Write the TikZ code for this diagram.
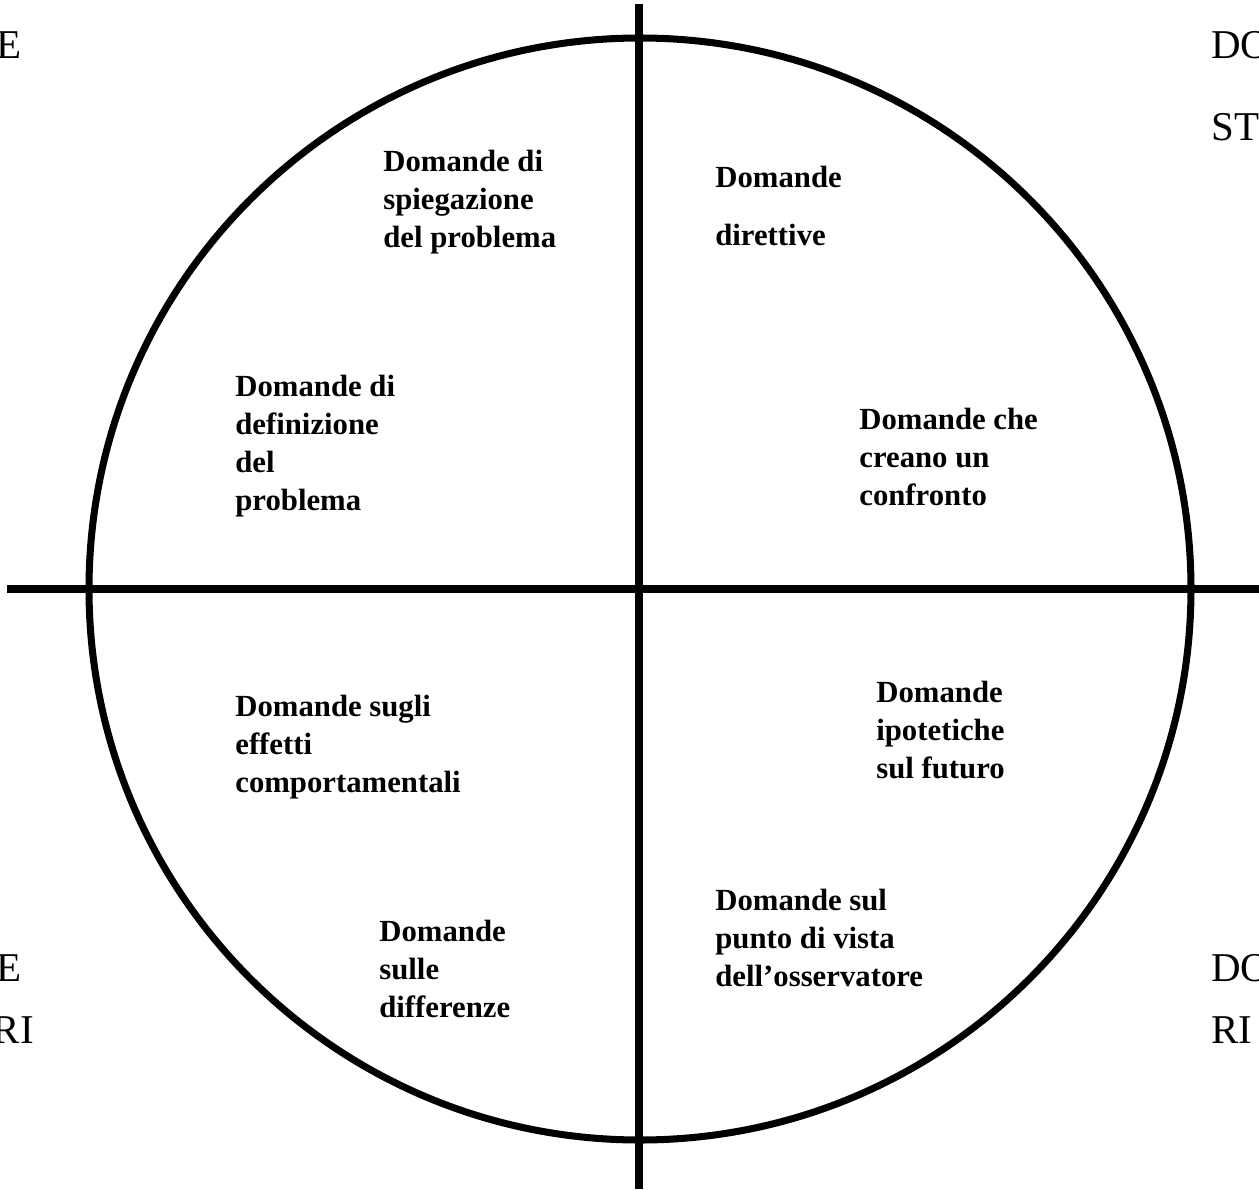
\documentclass[tikz,border=0pt]{standalone}
\usepackage{fontspec}
\setmainfont{Liberation Serif}
\usetikzlibrary{positioning}

\tikzset{
  quest/.style={anchor=base west, inner sep=0pt, align=left, font=\fontsize{17.5}{21.6}\selectfont\bfseries},
  side/.style={inner sep=0pt, font=\fontsize{23.3}{28}\selectfont},
  axis/.style={line width=4.5pt},
}

\begin{document}
\begin{tikzpicture}[x=0.02cm, y=-0.02cm]
\useasboundingbox (0,0) rectangle (1259,1190);
\clip (0,0) rectangle (1259,1190);

%circle and axes
\coordinate (c) at (640,589);
\draw[line width=4pt] (c) circle (551);
\coordinate (top) at (639,4);
\coordinate (bot) at (639,1189);
\coordinate (lft) at (7,589);
\coordinate (rgt) at (1262,589);
\draw[axis] (top) -- (bot);
\draw[axis] (lft) -- (rgt);

%upper left (base = last line)
\node[quest] (spiegazione) at (383,247) {Domande di\\spiegazione\\del problema};
\node[quest] (definizione) at (235,510) {Domande di\\definizione\\del\\problema};

%upper right
\node[quest] (domande) at (715,187) {Domande};
\node[quest] (direttive) at (715,245) {direttive};
\node[quest] (confronto) at (859,505) {Domande che\\creano un\\confronto};

%lower left
\node[quest] (effetti) at (235,792) {Domande sugli\\effetti\\comportamentali};
\node[quest] (differenze) at (379,1017) {Domande\\sulle\\differenze};

%lower right
\node[quest] (ipotetiche) at (876,778) {Domande\\ipotetiche\\sul futuro};
\node[quest] (osservatore) at (715,986) {Domande sul\\punto di vista\\dell’osservatore};

%cut labels at the edges
\node[side, anchor=base east] (tlE) at (22,58) {E};
\node[side, anchor=base west] (trDO) at (1211,58) {DO};
\node[side, anchor=base west] (trST) at (1211,140) {ST};
\node[side, anchor=base east] (blE) at (22,981) {E};
\node[side, anchor=base east] (blRI) at (34,1043) {RI};
\node[side, anchor=base west] (brDO) at (1211,981) {DO};
\node[side, anchor=base west] (brRI) at (1211,1043) {RI};
\end{tikzpicture}
\end{document}
